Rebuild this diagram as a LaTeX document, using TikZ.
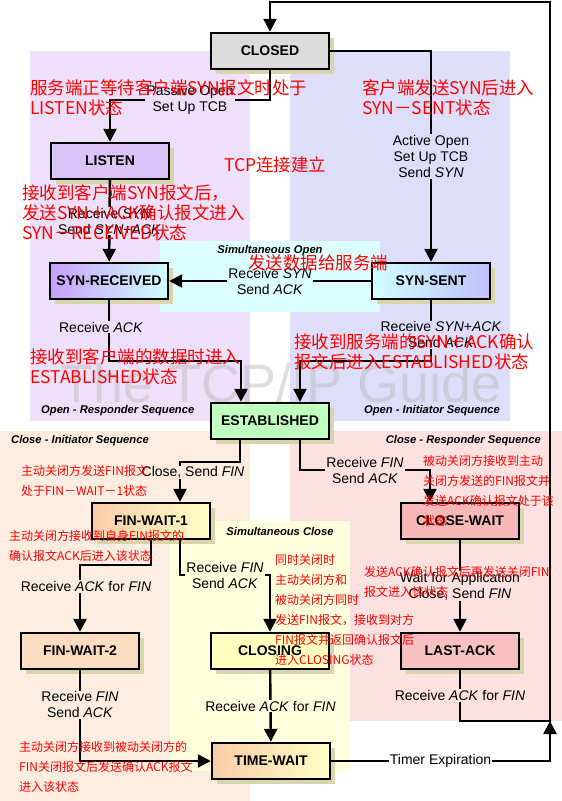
\documentclass[tikz,border=0pt]{standalone}
\usepackage{fontspec}
\setmainfont{Liberation Sans}
\newfontfamily\cjk{Noto Sans CJK SC}
\usepackage{xcolor}
\usetikzlibrary{shapes,arrows.meta,positioning,shadows}

\definecolor{bgresp}{HTML}{EEE0FA}
\definecolor{bginit}{HTML}{DEDEFA}
\definecolor{bgsimopen}{HTML}{DCFEFE}
\definecolor{bgcloseinit}{HTML}{FDEDE0}
\definecolor{bgcloseresp}{HTML}{FDE0E0}
\definecolor{bgsimclose}{HTML}{FEFEDC}
\definecolor{shadowtan}{HTML}{D8D4AC}
\definecolor{closedgray}{HTML}{DCDCDC}
\definecolor{listenpurple}{HTML}{DCC4F8}
\definecolor{recvpurple}{HTML}{C8A0F8}
\definecolor{recvcyan}{HTML}{D0FFFF}
\definecolor{sentblue}{HTML}{C0C0FA}
\definecolor{estgreen}{HTML}{C0FFC0}
\definecolor{finpeach}{HTML}{F8CCA8}
\definecolor{finyellow}{HTML}{FFFFC8}
\definecolor{fintwopeach}{HTML}{FCDCC0}
\definecolor{closingyellow}{HTML}{FFFFC0}
\definecolor{waitpink}{HTML}{F8B8B8}
\definecolor{lastpink}{HTML}{F8C0C0}

\begin{document}
\begin{tikzpicture}[
    x=1pt, y=-1pt,
    state/.style={rectangle, draw, line width=2.4pt, minimum width=118pt, minimum height=36pt, inner sep=2pt, font=\fontsize{14}{16}\selectfont\bfseries, drop shadow={shadow xshift=5pt, shadow yshift=-5pt, fill=shadowtan, opacity=1}},
    lbl/.style={font=\fontsize{14}{16}\selectfont, align=center, inner sep=1pt},
    seq/.style={font=\fontsize{11.2}{13}\selectfont\bfseries\itshape, inner sep=0pt},
    note/.style={text=red, font=\cjk\fontsize{17.5}{20}\selectfont, align=left, anchor=west, inner sep=0pt},
    smallnote/.style={note, font=\cjk\fontsize{12}{20}\selectfont},
    flow/.style={line width=2.4pt, -{Triangle[length=13pt, width=13pt]}}
]
\useasboundingbox (0,0) rectangle (562,801);

% Sequence areas
\fill[bgresp] (30,51) rectangle (250,421);
\fill[bginit] (290,51) rectangle (510,421);
\fill[bgsimopen] (160,241) rectangle (380,312);
\fill[bgcloseinit] (0,431) rectangle (250,801);
\fill[bgcloseresp] (290,431) rectangle (562,721);
\fill[bgsimclose] (170,521) rectangle (350,771);

\node[font=\fontsize{54}{54}\selectfont, text=white!72!black, opacity=0.45] (watermark) at (281,383) {The TCP/IP Guide};

\node[seq] (seqopenresp) at (41,411) [anchor=west] {Open - Responder Sequence};
\node[seq] (seqopeninit) at (500,411) [anchor=east] {Open - Initiator Sequence};
\node[seq] (seqsimopen) at (270,251) {Simultaneous Open};
\node[seq] (seqcloseinit) at (11,441) [anchor=west] {Close - Initiator Sequence};
\node[seq] (seqcloseresp) at (541,441) [anchor=east] {Close - Responder Sequence};
\node[seq] (seqsimclose) at (280,531) {Simultaneous Close};

% States
\node[state, fill=closedgray] (closed) at (270,51) {CLOSED};
\node[state, fill=listenpurple] (listen) at (110,161) {LISTEN};
\node[state, left color=recvpurple, right color=recvcyan] (synrecv) at (109,281) {SYN-RECEIVED};
\node[state, left color=recvcyan, right color=sentblue] (synsent) at (431,281) {SYN-SENT};
\node[state, fill=estgreen] (established) at (270,421) {ESTABLISHED};
\node[state, left color=finpeach, right color=finyellow] (finwait1) at (151,521) {FIN-WAIT-1};
\node[state, fill=waitpink] (closewait) at (460,521) {CLOSE-WAIT};
\node[state, fill=fintwopeach] (finwait2) at (80,651) {FIN-WAIT-2};
\node[state, fill=closingyellow] (closing) at (270,651) {CLOSING};
\node[state, fill=lastpink] (lastack) at (460,651) {LAST-ACK};
\node[state, left color=finpeach, right color=finyellow] (timewait) at (271,761) {TIME-WAIT};

\coordinate (loopjoin) at (550,721);
\coordinate (looptop) at (550,2);

% Transitions
\draw[flow] (closed.south) -- ++(0,30) -| node[lbl, fill=bgresp, pos=0.25] (lpassive) {Passive Open\\Set Up TCB} (listen.north);
\draw[flow] (closed.east) -| node[lbl, fill=bginit, pos=0.75] (lactive) {Active Open\\Set Up TCB\\Send \textit{SYN}} (synsent.north);
\draw[flow] (listen) -- node[lbl, fill=bgresp] (lrecvsyn) {Receive \textit{SYN}\\Send \textit{SYN}+\textit{ACK}} (synrecv);
\draw[flow] (synsent) -- node[lbl, fill=bgsimopen] (lsimopen) {Receive \textit{SYN}\\Send \textit{ACK}} (synrecv);
\draw[flow] (synrecv.south) -- node[lbl, fill=bgresp, pos=0.44, xshift=-8pt] (lrecvack) {Receive \textit{ACK}} ++(0,61) -| ([xshift=-29pt]established.north);
\draw[flow] (synsent.south) -- node[lbl, fill=bginit, pos=0.57, xshift=10pt] (lsynack) {Receive \textit{SYN}+\textit{ACK}\\Send \textit{ACK}} ++(0,61) -| ([xshift=30pt]established.north);
\draw[flow] ([xshift=-30pt]established.south) -- ++(0,22) -| node[lbl, fill=bgcloseinit, pos=0.63, xshift=13pt] (lclose) {Close, Send \textit{FIN}} ([xshift=29pt]finwait1.north);
\draw[flow] ([xshift=30pt]established.south) -- ++(0,30) -| node[lbl, fill=bgcloseresp, pos=0.25] (lrecvfin) {Receive \textit{FIN}\\Send \textit{ACK}} ([xshift=-30pt]closewait.north);
\draw[flow] (finwait1.south) -- ++(0,25) -| node[lbl, fill=bgcloseinit, pos=0.66, xshift=6pt] (lackfin) {Receive \textit{ACK} for \textit{FIN}} (finwait2.north);
\draw[flow] ([xshift=29pt]finwait1.south) -- ++(0,35) -| node[lbl, fill=bgsimclose, pos=0.25] (lsimclose) {Receive \textit{FIN}\\Send \textit{ACK}} (closing.north);
\draw[flow] (closewait) -- node[lbl, fill=bgcloseresp] (lappclose) {Wait for Application\\Close, Send \textit{FIN}} (lastack);
\draw[flow] (finwait2.south) |- node[lbl, fill=bgcloseinit, pos=0.19] (lfinack) {Receive \textit{FIN}\\Send \textit{ACK}} (timewait.west);
\draw[flow] (closing) -- node[lbl, fill=bgsimclose] (lclosingack) {Receive \textit{ACK} for \textit{FIN}} (timewait);
\draw[flow] (timewait.east) -| node[lbl, fill=white, pos=0.25] (ltimer) {Timer Expiration} (loopjoin);
\draw[flow] (lastack.south) |- node[lbl, fill=bgcloseresp, pos=0.25] (llastack) {Receive \textit{ACK} for \textit{FIN}} (loopjoin) -- (looptop) -| (closed.north);

% Notes
\node[note] (notelisten) at (30,97.5) {服务端正等待客户端SYN报文时处于\\LISTEN状态};
\node[note] (notesent) at (362,98) {客户端发送SYN后进入\\SYN－SENT状态};
\node[note] (notetcp) at (224,165) {TCP连接建立};
\node[note] (noterecv) at (22,213) {接收到客户端SYN报文后，\\发送SYN＋ACK确认报文进入\\SYN－RECEIVED状态};
\node[note] (notedata) at (248,263) {发送数据给服务端};
\node[note] (noteestresp) at (30,366.5) {接收到客户端的数据时进入\\ESTABLISHED状态};
\node[note] (noteestinit) at (294,351.5) {接收到服务端的SYN＋ACK确认\\报文后进入ESTABLISHED状态};
\node[smallnote] (notefinone) at (21,480.5) {主动关闭方发送FIN报文\\处于FIN－WAIT－1状态};
\node[smallnote] (notefintwo) at (9,546) {主动关闭方接收到自身FIN报文的\\确认报文ACK后进入该状态};
\node[smallnote] (noteclosewait) at (423,490.5) {被动关闭方接收到主动\\关闭方发送的FIN报文并\\发送ACK确认报文处于该\\状态};
\node[smallnote] (noteclosing) at (275,610) {同时关闭时\\主动关闭方和\\被动关闭方同时\\发送FIN报文，接收到对方\\FIN报文并返回确认报文后\\进入CLOSING状态};
\node[smallnote] (notelastack) at (364,582) {发送ACK确认报文后再发送关闭FIN\\报文进入该状态};
\node[smallnote] (notetimewait) at (19,767) {主动关闭方接收到被动关闭方的\\FIN关闭报文后发送确认ACK报文\\进入该状态};

\end{tikzpicture}
\end{document}
